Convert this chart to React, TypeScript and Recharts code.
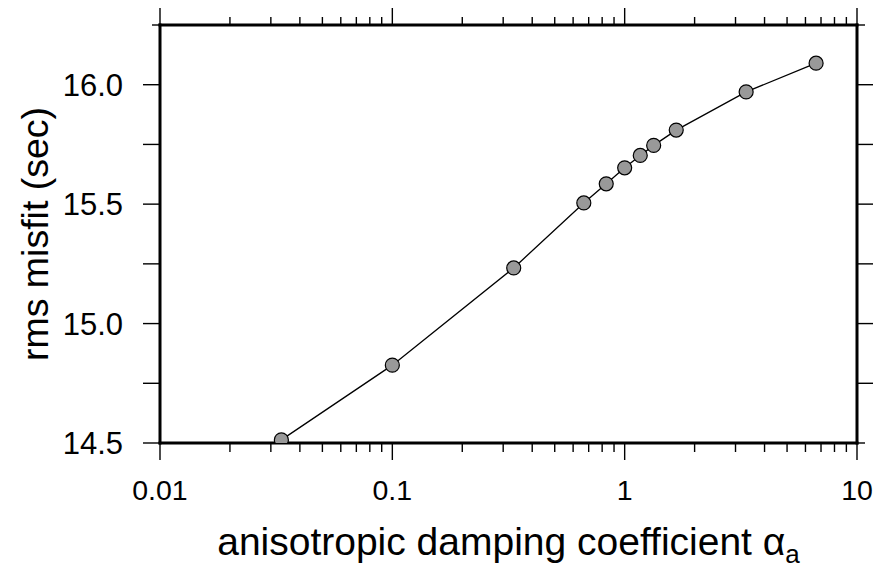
import React from 'react';
import { LineChart, Line, XAxis, YAxis } from 'recharts';

// damping coefficient values (x) and rms misfit (y)
const alphaValues = [0.0333, 0.1, 0.333, 0.667, 0.833, 1.0, 1.167, 1.333, 1.667, 3.333, 6.667];
const rmsMisfit = [14.513, 14.826, 15.233, 15.505, 15.585, 15.652, 15.704, 15.746, 15.81, 15.97, 16.09];

const xMajorTicks = [0.01, 0.1, 1, 10];
const xMajorLabels = ['0.01', '0.1', '1', '10'];
const xMinorTicks = [
  0.02, 0.03, 0.04, 0.05, 0.06, 0.07, 0.08, 0.09,
  0.2, 0.3, 0.4, 0.5, 0.6, 0.7, 0.8, 0.9,
  2, 3, 4, 5, 6, 7, 8, 9,
];
const yTicks = [14.5, 14.75, 15.0, 15.25, 15.5, 15.75, 16.0, 16.25];
const yLabelValues = [14.5, 15.0, 15.5, 16.0];
const yLabelTexts = ['14.5', '15.0', '15.5', '16.0'];

const xDomain = [0.01, 10];
const yDomain = [14.5, 16.25];

const data = alphaValues.map((a, i) => ({ alpha: a, rms: rmsMisfit[i] }));
const allXTicks = [...xMajorTicks, ...xMinorTicks].sort((a, b) => a - b);

const FONT = '"Liberation Sans", Arial, Helvetica, sans-serif';
const TICK_W = 1.4;

const majorIndex = (v: number) => xMajorTicks.findIndex((t) => Math.abs(t - v) < 1e-9);
const yLabelIndex = (v: number) => yLabelValues.findIndex((t) => Math.abs(t - v) < 1e-9);

const BottomTick = (props: any) => {
  const { x, y, payload } = props;
  const mi = majorIndex(payload.value);
  const major = mi >= 0;
  return (
    <g>
      <line x1={x} x2={x} y1={y} y2={y + (major ? 17 : 9)} stroke="#000" strokeWidth={TICK_W} />
      {major && (
        <text x={x} y={y + 57} textAnchor="middle" fontSize={28.5} fontFamily={FONT} fill="#000">
          {xMajorLabels[mi]}
        </text>
      )}
    </g>
  );
};

const TopTick = (props: any) => {
  const { x, y, payload } = props;
  const major = majorIndex(payload.value) >= 0;
  return <line x1={x} x2={x} y1={y} y2={y - (major ? 17 : 8)} stroke="#000" strokeWidth={TICK_W} />;
};

const LeftTick = (props: any) => {
  const { x, y, payload } = props;
  const v = payload.value;
  const li = yLabelIndex(v);
  const len = Math.abs(v - yDomain[1]) < 1e-9 ? 8 : 17;
  return (
    <g>
      <line x1={x - len} x2={x} y1={y} y2={y} stroke="#000" strokeWidth={TICK_W} />
      {li >= 0 && (
        <text x={x - 37} y={y + 11} textAnchor="end" fontSize={31} fontFamily={FONT} fill="#000">
          {yLabelTexts[li]}
        </text>
      )}
    </g>
  );
};

const RightTick = (props: any) => {
  const { x, y, payload } = props;
  const v = payload.value;
  const edge = Math.abs(v - yDomain[0]) < 1e-9 || Math.abs(v - yDomain[1]) < 1e-9;
  const len = edge ? 8 : 16;
  return <line x1={x} x2={x + len} y1={y} y2={y} stroke="#000" strokeWidth={TICK_W} />;
};

const XTitle = (props: any) => {
  const vb = props.viewBox || { x: 160, y: 443, width: 697 };
  const cx = vb.x + vb.width / 2;
  return (
    <text x={cx} y={vb.y + 112} textAnchor="middle" fontSize={39} fontFamily={FONT} fill="#000">
      anisotropic damping coefficient α
      <tspan fontSize={26} dy={8}>a</tspan>
    </text>
  );
};

const YTitle = (props: any) => {
  const vb = props.viewBox || { x: 0, y: 25, height: 418 };
  const cy = vb.y + vb.height / 2;
  const bx = 48;
  return (
    <text
      x={bx}
      y={cy}
      transform={`rotate(-90, ${bx}, ${cy})`}
      textAnchor="middle"
      fontSize={37.5}
      fontFamily={FONT}
      fill="#000"
    >
      rms misfit (sec)
    </text>
  );
};

const axisLineStyle = { stroke: '#000', strokeWidth: 3, strokeLinecap: 'square' as const };

export default function App() {
  return (
    <div style={{ position: 'absolute', left: 0, top: 0, background: '#fff' }}>
      <LineChart width={878} height={571} data={data} margin={{ top: 0, right: 0, bottom: 0, left: 0 }}>
        <Line
          xAxisId="bottom"
          yAxisId="left"
          type="linear"
          dataKey="rms"
          stroke="#000"
          strokeWidth={1.3}
          dot={{ r: 7, fill: '#999999', stroke: '#000', strokeWidth: 1.2 }}
          activeDot={false}
          isAnimationActive={false}
        />
        <XAxis
          xAxisId="bottom"
          orientation="bottom"
          dataKey="alpha"
          type="number"
          scale="log"
          domain={xDomain}
          allowDataOverflow
          ticks={allXTicks}
          interval={0}
          height={128}
          tickSize={0}
          tickMargin={0}
          tickLine={false}
          axisLine={axisLineStyle}
          tick={(p: any) => <BottomTick {...p} />}
          label={<XTitle />}
        />
        <XAxis
          xAxisId="top"
          orientation="top"
          dataKey="alpha"
          type="number"
          scale="log"
          domain={xDomain}
          allowDataOverflow
          ticks={allXTicks}
          interval={0}
          height={25}
          tickSize={0}
          tickMargin={0}
          tickLine={false}
          axisLine={axisLineStyle}
          tick={(p: any) => <TopTick {...p} />}
        />
        <YAxis
          yAxisId="left"
          orientation="left"
          type="number"
          domain={yDomain}
          allowDataOverflow
          ticks={yTicks}
          interval={0}
          width={160}
          tickSize={0}
          tickMargin={0}
          tickLine={false}
          axisLine={axisLineStyle}
          tick={(p: any) => <LeftTick {...p} />}
          label={<YTitle />}
        />
        <YAxis
          yAxisId="right"
          orientation="right"
          type="number"
          domain={yDomain}
          allowDataOverflow
          ticks={yTicks}
          interval={0}
          width={21}
          tickSize={0}
          tickMargin={0}
          tickLine={false}
          axisLine={axisLineStyle}
          tick={(p: any) => <RightTick {...p} />}
        />
      </LineChart>
    </div>
  );
}
